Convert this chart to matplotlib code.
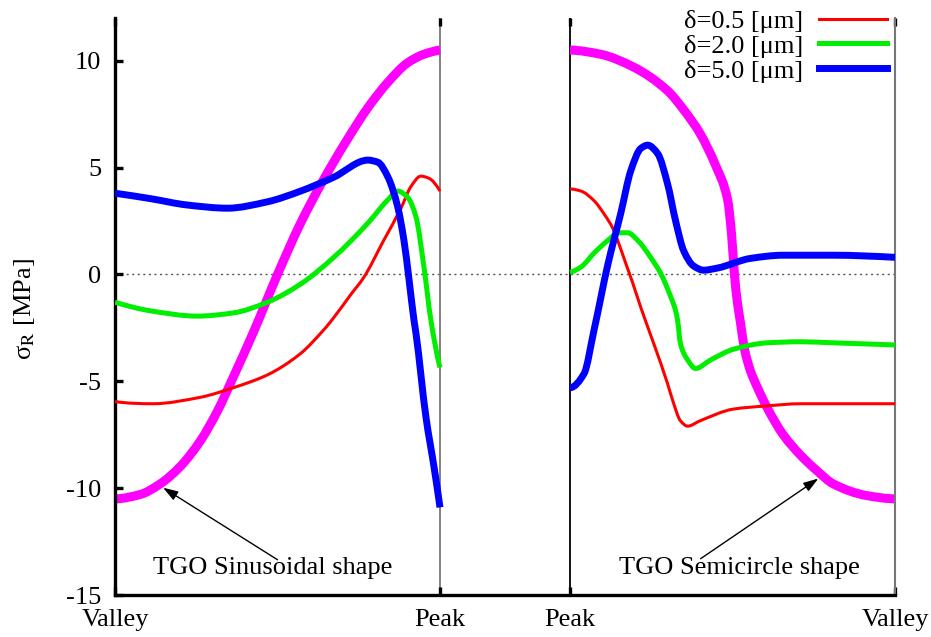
import matplotlib
matplotlib.use("Agg")
import matplotlib.pyplot as plt
from matplotlib.path import Path
from matplotlib.patches import PathPatch
from matplotlib.lines import Line2D
import numpy as np

plt.rcParams['font.family'] = ['Liberation Serif', 'DejaVu Serif']
plt.rcParams['mathtext.fontset'] = 'stix'

# Positions along each half-profile (0 = start of panel, 1 = end of panel)
# Left panel: TGO sinusoidal shape, Valley -> Peak
sin_shape_t = [0.0, 0.077, 0.139, 0.2, 0.262, 0.315, 0.364, 0.426, 0.5, 0.571,
               0.633, 0.71, 0.778, 0.84, 0.9, 0.95, 1.0]
sin_shape_y = [-10.5, -10.3, -9.8, -9.0, -7.8, -6.4, -4.8, -2.7, 0.0, 2.4,
               4.2, 6.2, 7.8, 9.0, 9.9, 10.3, 10.5]

left_red_t = [0.0, 0.117, 0.262, 0.364, 0.469, 0.571, 0.633, 0.664, 0.725, 0.765,
              0.827, 0.880, 0.910, 0.941, 0.966, 1.0]
left_red_y = [-5.95, -6.05, -5.75, -5.3, -4.7, -3.7, -2.75, -2.2, -0.95, -0.15,
              1.6, 3.1, 4.1, 4.6, 4.5, 3.9]

left_green_t = [0.0, 0.108, 0.253, 0.364, 0.469, 0.571, 0.673, 0.778, 0.840, 0.870,
                0.901, 0.926, 0.951, 0.972, 1.0]
left_green_y = [-1.3, -1.7, -1.95, -1.8, -1.3, -0.45, 0.8, 2.4, 3.5, 3.9,
                3.6, 2.7, 0.3, -2.15, -4.35]

left_blue_t = [0.0, 0.108, 0.222, 0.346, 0.469, 0.571, 0.673, 0.778, 0.809, 0.840,
               0.870, 0.889, 0.904, 0.920, 0.926, 0.957, 0.982, 1.0]
left_blue_y = [3.8, 3.55, 3.25, 3.1, 3.4, 3.9, 4.55, 5.35, 5.25, 4.55,
               3.15, 1.6, -0.15, -2.15, -2.75, -6.7, -9.05, -10.9]

# Right panel: TGO semicircle shape, Peak -> Valley
semi_shape_t = [0.0, 0.095, 0.196, 0.30, 0.35, 0.40, 0.448, 0.485, 0.497, 0.506,
                0.515, 0.525, 0.537, 0.555, 0.577, 0.607, 0.656, 0.709, 0.761, 0.81,
                0.914, 1.0]
semi_shape_y = [10.5, 10.3, 9.7, 8.6, 7.7, 6.6, 5.1, 3.5, 1.9, 0.0,
                -1.3, -2.3, -3.5, -4.5, -5.3, -6.25, -7.5, -8.45, -9.2, -9.8,
                -10.35, -10.5]

right_red_t = [0.0, 0.034, 0.074, 0.104, 0.132, 0.150, 0.172, 0.193, 0.218, 0.258,
               0.30, 0.316, 0.34, 0.362, 0.40, 0.503, 0.607, 0.709, 0.81, 1.0]
right_red_y = [4.0, 3.9, 3.45, 2.85, 2.15, 1.45, 0.5, -0.4, -1.55, -3.25,
               -5.1, -5.9, -6.85, -7.1, -6.85, -6.3, -6.15, -6.05, -6.05, -6.05]

right_green_t = [0.0, 0.034, 0.074, 0.117, 0.150, 0.178, 0.208, 0.248, 0.279, 0.310,
                 0.325, 0.331, 0.34, 0.362, 0.386, 0.433, 0.503, 0.607, 0.709, 0.81, 1.0]
right_green_y = [0.1, 0.35, 1.0, 1.6, 1.95, 1.95, 1.6, 0.8, 0.05, -1.05,
                 -1.7, -2.15, -3.25, -4.0, -4.4, -4.0, -3.5, -3.2, -3.15, -3.2, -3.3]

right_blue_t = [0.0, 0.043, 0.074, 0.117, 0.156, 0.187, 0.218, 0.239, 0.27, 0.30,
                0.325, 0.35, 0.380, 0.411, 0.454, 0.555, 0.656, 0.81, 1.0]
right_blue_y = [-5.3, -4.65, -2.6, 0.5, 2.85, 4.85, 5.9, 6.05, 5.65, 4.25,
                2.5, 1.1, 0.4, 0.2, 0.3, 0.75, 0.9, 0.9, 0.8]

labels = ['δ=0.5 [μm]', 'δ=2.0 [μm]', 'δ=5.0 [μm]']
tick_labels = ['Valley', 'Peak', 'Peak', 'Valley']

# Horizontal layout: left panel on [0, 1], gap, right panel on [1.4, 2.4]
LEFT0, RIGHT0 = 0.0, 1.4
tick_pos = [0.0, 1.0, 1.4, 2.4]


def _end_slope(h0, h1, d0, d1):
    m = ((2 * h0 + h1) * d0 - h0 * d1) / (h0 + h1)
    if np.sign(m) != np.sign(d0):
        m = 0.0
    elif np.sign(d0) != np.sign(d1) and abs(m) > abs(3 * d0):
        m = 3 * d0
    return m


def _pchip_slopes(x, y):
    h = np.diff(x)
    d = np.diff(y) / h
    m = np.zeros_like(y)
    for i in range(1, len(y) - 1):
        if d[i - 1] * d[i] <= 0:
            m[i] = 0.0
        else:
            w1 = 2 * h[i] + h[i - 1]
            w2 = h[i] + 2 * h[i - 1]
            m[i] = (w1 + w2) / (w1 / d[i - 1] + w2 / d[i])
    m[0] = _end_slope(h[0], h[1], d[0], d[1])
    m[-1] = _end_slope(h[-1], h[-2], d[-1], d[-2])
    return m


def smooth_path(x, y):
    """Cubic Bezier path through every (x, y) point, shape-preserving tangents."""
    x = np.asarray(x, float)
    y = np.asarray(y, float)
    m = _pchip_slopes(x, y)
    verts = [(x[0], y[0])]
    codes = [Path.MOVETO]
    for i in range(len(x) - 1):
        h = x[i + 1] - x[i]
        verts += [(x[i] + h / 3, y[i] + m[i] * h / 3),
                  (x[i + 1] - h / 3, y[i + 1] - m[i + 1] * h / 3),
                  (x[i + 1], y[i + 1])]
        codes += [Path.CURVE4] * 3
    return Path(verts, codes)


def draw_curve(ax, x, y, color, lw, z):
    patch = PathPatch(smooth_path(x, y), facecolor='none', edgecolor=color, lw=lw,
                      capstyle='butt', joinstyle='round', zorder=z)
    ax.add_patch(patch)


fig = plt.figure(figsize=(9.31, 6.37), dpi=100)
ax = fig.add_axes([115 / 931, 1 - 595 / 637, 780 / 931, 577 / 637])

ax.set_xlim(0, 2.4)
ax.set_ylim(-15, 12)

# zero reference line and panel separators
ax.axhline(0, color='#555555', lw=1.0, ls=(0, (1.5, 2.5)), zorder=1)
ax.axvline(1.0, color='#777777', lw=1.3, zorder=1)
ax.axvline(1.4, color='black', lw=1.3, zorder=1)

# TGO interface profiles
draw_curve(ax, LEFT0 + np.array(sin_shape_t), sin_shape_y, '#ff00ff', 6.5, 2)
draw_curve(ax, RIGHT0 + np.array(semi_shape_t), semi_shape_y, '#ff00ff', 6.5, 2)

colors = ['#ff0000', '#00ee00', '#0000ff']
widths = [2.2, 3.6, 5.0]
left_series = [(left_red_t, left_red_y), (left_green_t, left_green_y), (left_blue_t, left_blue_y)]
right_series = [(right_red_t, right_red_y), (right_green_t, right_green_y), (right_blue_t, right_blue_y)]
handles = []
for (lt, ly), (rt, ry), c, w, lab in zip(left_series, right_series, colors, widths, labels):
    draw_curve(ax, LEFT0 + np.array(lt), ly, c, w, 3)
    draw_curve(ax, RIGHT0 + np.array(rt), ry, c, w, 3)
    handles.append(Line2D([], [], color=c, lw=w, label=lab))

# Spines
ax.spines['top'].set_visible(False)
ax.spines['left'].set_linewidth(2.4)
ax.spines['bottom'].set_linewidth(2.4)
ax.spines['right'].set_color('#777777')
ax.spines['right'].set_linewidth(1.5)

# Ticks
ax.set_yticks([-15, -10, -5, 0, 5, 10])
ax.set_yticklabels(['-15', '-10', '-5', '0', '5', '10'])
ax.tick_params(axis='y', direction='in', length=6, width=2.4, labelsize=19,
               pad=10, right=False)
ax.set_xticks(tick_pos)
ax.set_xticklabels(tick_labels)
ax.tick_params(axis='x', direction='in', length=6, width=2.4, labelsize=19,
               pad=10, top=True)

ax.set_ylabel(r'σ$_{\mathrm{R}}$ [MPa]', fontsize=19)
ax.yaxis.set_label_coords(-0.10, 0.495)

# Annotations
arrowprops = dict(arrowstyle='-|>,head_length=0.9,head_width=0.3', color='black',
                  lw=1.0, shrinkA=0, shrinkB=0)
ax.annotate('', xy=(0.148, -9.98), xytext=(0.50, -13.35), arrowprops=arrowprops)
ax.text(0.485, -13.75, 'TGO Sinusoidal shape', fontsize=19, ha='center', va='center')
ax.annotate('', xy=(2.164, -9.55), xytext=(1.802, -13.3), arrowprops=arrowprops)
ax.text(1.92, -13.75, 'TGO Semicircle shape', fontsize=19, ha='center', va='center')

leg = ax.legend(handles=handles, loc='upper right', bbox_to_anchor=(905 / 931, 1 + 9 / 637),
                bbox_transform=fig.transFigure, frameon=False, fontsize=19,
                markerfirst=False, handlelength=2.55, handletextpad=0.6,
                labelspacing=0.05, borderaxespad=0.3)

fig.savefig('out.png', dpi=100)
